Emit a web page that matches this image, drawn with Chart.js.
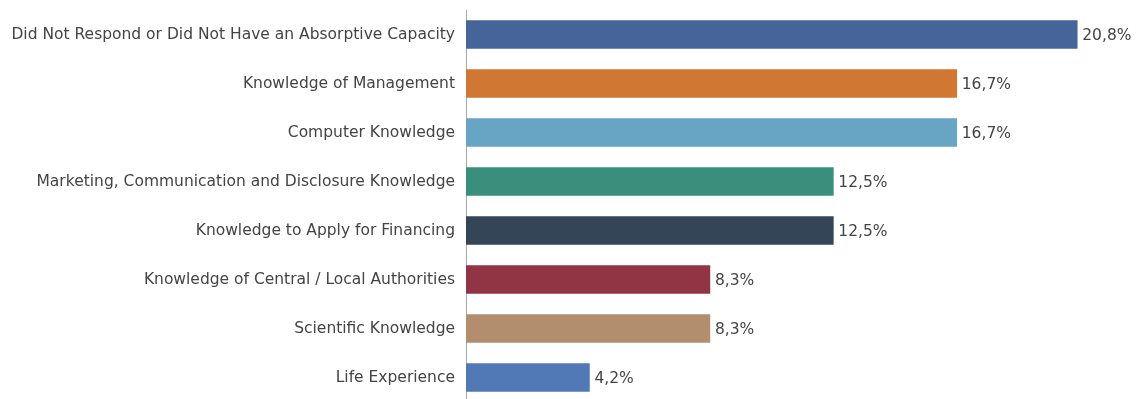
<!DOCTYPE html>
<html>
<head>
<meta charset="utf-8">
<script src="https://cdn.jsdelivr.net/npm/chart.js@4/dist/chart.umd.min.js"></script>
<style>
  html, body { margin: 0; padding: 0; background: #fff; overflow: hidden; }
  canvas { display: block; }
</style>
</head>
<body>
<canvas id="myChart" width="1136" height="402"></canvas>
<script>
const categories = [
  "Did Not Respond or Did Not Have an Absorptive Capacity",
  "Knowledge of Management",
  "Computer Knowledge",
  "Marketing, Communication and Disclosure Knowledge",
  "Knowledge to Apply for Financing",
  "Knowledge of Central / Local Authorities",
  "Scientific Knowledge",
  "Life Experience"
];
const shares = [20.8, 16.7, 16.7, 12.5, 12.5, 8.3, 8.3, 4.2];
const barColors = ["#45659a", "#cf7733", "#68a4c4", "#3a8f7c", "#344558", "#913545", "#b28d6e", "#5079b6"];

// value labels to the right of each bar, comma decimal
const valueLabels = {
  id: "valueLabels",
  afterDatasetsDraw(chart) {
    const ctx = chart.ctx;
    const meta = chart.getDatasetMeta(0);
    ctx.save();
    ctx.font = "15.5px 'DejaVu Sans'";
    ctx.fillStyle = "#444";
    ctx.textAlign = "left";
    ctx.textBaseline = "middle";
    meta.data.forEach((bar, i) => {
      const txt = shares[i].toFixed(1).replace(".", ",") + "%";
      ctx.fillText(txt, bar.x + 5, bar.y + 1);
    });
    ctx.restore();
  }
};

const ctx = document.getElementById("myChart").getContext("2d");
const myChart = new Chart(ctx, {
  type: "bar",
  data: {
    labels: categories,
    datasets: [{
      data: shares,
      backgroundColor: barColors,
      borderWidth: 0,
      barThickness: 28
    }]
  },
  options: {
    indexAxis: "y",
    responsive: false,
    animation: false,
    layout: { padding: { top: 10, right: 0, bottom: 0, left: 0 } },
    plugins: {
      legend: { display: false },
      tooltip: { enabled: false }
    },
    scales: {
      x: {
        display: false,
        min: 0,
        max: 22.8
      },
      y: {
        afterFit: (scale) => {
          scale.width = 466;
          scale.paddingTop = 0;
          scale.paddingBottom = 0;
        },
        grid: { display: false, drawTicks: false },
        border: { display: true, color: "#aaa", width: 1 },
        ticks: {
          padding: 11,
          color: "#444",
          font: { family: "'DejaVu Sans'", size: 15.5 }
        }
      }
    }
  },
  plugins: [valueLabels]
});
</script>
</body>
</html>
